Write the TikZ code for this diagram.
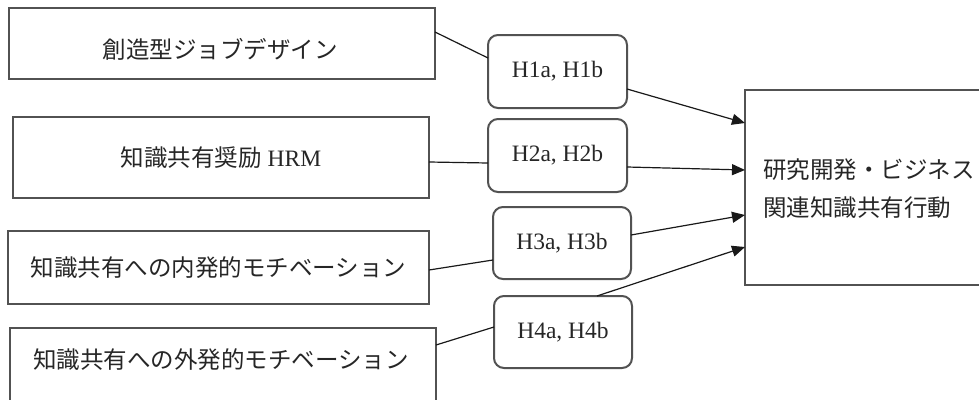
\documentclass[tikz,border=0pt]{standalone}
\usepackage{fontspec}
\setmainfont{Liberation Serif}
\newfontfamily\jp{Noto Sans CJK JP}
\usetikzlibrary{arrows.meta,calc}
\begin{document}
\begin{tikzpicture}[x=1pt,y=-1pt,
  box/.style={draw=black!68,line width=2pt,rectangle,outer sep=0pt,inner sep=0pt,
    font=\fontsize{23.5}{28}\selectfont,text=black!85},
  hbox/.style={box,rounded corners=10pt},
  conn/.style={line width=1.2pt,draw=black!90},
  arr/.style={conn,-{Triangle[length=13pt,width=11pt]}},
  lbl/.style={inner sep=0pt,font=\fontsize{23.5}{28}\selectfont,text=black!85}]
\useasboundingbox (0,0) rectangle (979,399);
\clip (0,0) rectangle (979,399);
% left boxes
\node[box,minimum width=426pt,minimum height=71pt] (b1) at (222,43.5) {};
\node[lbl] (t1) at (220,49) {\jp 創造型ジョブデザイン};
\node[box,minimum width=416pt,minimum height=81pt] (b2) at (221,157.5) {{\jp 知識共有奨励} HRM};
\node[box,minimum width=421pt,minimum height=73pt] (b3) at (218.5,267.5) {\jp 知識共有への内発的モチベーション};
\node[box,minimum width=426pt,minimum height=100pt] (b4) at (223,378) {};
\node[lbl] (t4) at (221,360) {\jp 知識共有への外発的モチベーション};
% hypothesis boxes
\node[hbox,minimum width=139pt,minimum height=73pt] (h1) at (557.5,71.5) {H1a, H1b};
\node[hbox,minimum width=139pt,minimum height=73pt] (h2) at (557.5,155.5) {H2a, H2b};
\node[hbox,minimum width=138pt,minimum height=72pt] (h3) at (562,243) {H3a, H3b};
\node[hbox,minimum width=138pt,minimum height=72pt] (h4) at (563,332) {H4a, H4b};
% target
\node[box,minimum width=270pt,minimum height=195pt] (T) at (880,187.5) {};
\node[lbl,anchor=west,align=left,font=\fontsize{23.5}{38}\selectfont\jp] (tt) at (763,189) {研究開発・ビジネス\\関連知識共有行動};
% connectors
\draw[conn] (b1.east |- 0,32) -- (h1.west |- 0,58);
\draw[conn] (b2.east |- 0,162) -- (h2.west |- 0,163);
\draw[conn] (b3.east |- 0,270) -- (h3.west |- 0,260);
\draw[conn] (b4.east |- 0,345) -- (h4.west |- 0,327);
\draw[arr] (h1.east |- 0,89) -- (T.west |- 0,123);
\draw[arr] (h2.east |- 0,167) -- (T.west |- 0,170);
\draw[arr] (h3.east |- 0,235) -- (T.west |- 0,215);
\draw[arr] (h4.north -| 597,0) -- (T.west |- 0,247);
\end{tikzpicture}
\end{document}
